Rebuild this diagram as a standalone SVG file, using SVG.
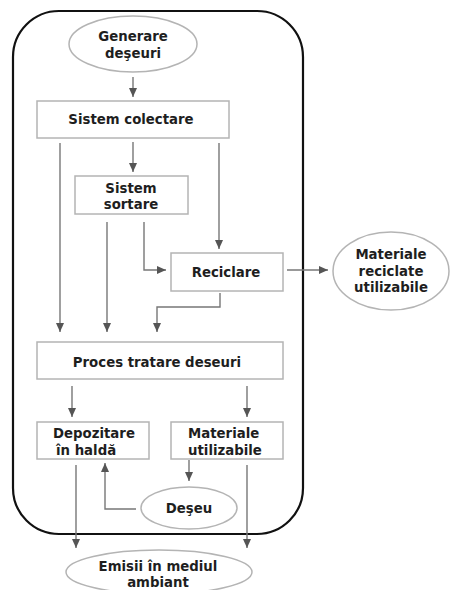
<svg xmlns="http://www.w3.org/2000/svg" width="450" height="590" viewBox="0 0 450 590">
<defs>
<marker id="ah" markerUnits="userSpaceOnUse" markerWidth="10" markerHeight="10" viewBox="0 0 10 10" refX="9" refY="5" orient="auto">
<path d="M0,1 L9,5 L0,9 Z" fill="#555"/>
</marker>
<style>
.frame{fill:none;stroke:#111;stroke-width:2.2}
.box{fill:#fff;stroke:#b4b4b4;stroke-width:1.5}
.t{font-family:"DejaVu Sans",Verdana,sans-serif;font-weight:bold;font-size:13.3px;fill:#1e1e1e}
.c{text-anchor:middle}
.ln{fill:none;stroke:#777;stroke-width:1.4;marker-end:url(#ah)}
</style>
</defs>
<rect width="450" height="590" fill="#fff"/>
<rect class="frame" x="13" y="11" width="290" height="523" rx="46" ry="46"/>
<g id="connectors">
<line class="ln" x1="133" y1="77" x2="133" y2="97"/>
<line class="ln" x1="133" y1="142" x2="133" y2="172"/>
<line class="ln" x1="60" y1="143" x2="60" y2="332"/>
<line class="ln" x1="219" y1="143" x2="219" y2="249"/>
<line class="ln" x1="107" y1="222" x2="107" y2="332"/>
<polyline class="ln" points="144,222 144,270 166,270"/>
<line class="ln" x1="287" y1="270" x2="328" y2="270"/>
<polyline class="ln" points="220,293 220,307 157,307 157,332"/>
<line class="ln" x1="72" y1="386" x2="72" y2="417"/>
<line class="ln" x1="247" y1="386" x2="247" y2="417"/>
<line class="ln" x1="189" y1="460" x2="189" y2="481"/>
<polyline class="ln" points="136,509 105,509 105,463"/>
<line class="ln" x1="76" y1="465" x2="76" y2="548"/>
<line class="ln" x1="247" y1="465" x2="247" y2="548"/>
</g>
<g id="generare">
<ellipse class="box" cx="133" cy="44" rx="64" ry="28"/>
<text class="t c" x="133" y="41">Generare</text>
<text class="t c" x="133" y="58">deşeuri</text>
</g>
<g id="colectare">
<rect class="box" x="37" y="101" width="192" height="37"/>
<text class="t c" x="131" y="124">Sistem colectare</text>
</g>
<g id="sortare">
<rect class="box" x="75" y="176" width="113" height="38"/>
<text class="t c" x="131" y="193">Sistem</text>
<text class="t c" x="131" y="209">sortare</text>
</g>
<g id="reciclare">
<rect class="box" x="171" y="253" width="112" height="38"/>
<text class="t c" x="226" y="277">Reciclare</text>
</g>
<g id="materiale-reciclate">
<ellipse class="box" cx="391" cy="271" rx="58" ry="39"/>
<text class="t c" x="391" y="259">Materiale</text>
<text class="t c" x="391" y="276">reciclate</text>
<text class="t c" x="391" y="292">utilizabile</text>
</g>
<g id="proces">
<rect class="box" x="37" y="342" width="246" height="37"/>
<text class="t c" x="157" y="367">Proces tratare deseuri</text>
</g>
<g id="depozitare">
<rect class="box" x="37" y="422" width="112" height="37"/>
<text class="t" x="53" y="438">Depozitare</text>
<text class="t" x="56" y="455">în haldă</text>
</g>
<g id="materiale-utilizabile">
<rect class="box" x="171" y="422" width="112" height="37"/>
<text class="t" x="188" y="438">Materiale</text>
<text class="t" x="188" y="455">utilizabile</text>
</g>
<g id="deseu">
<ellipse class="box" cx="189" cy="508" rx="48" ry="21"/>
<text class="t c" x="189" y="513">Deşeu</text>
</g>
<g id="emisii">
<ellipse class="box" cx="159" cy="572" rx="93" ry="22"/>
<text class="t c" x="158" y="571">Emisii în mediul</text>
<text class="t c" x="158" y="587">ambiant</text>
</g>
</svg>
